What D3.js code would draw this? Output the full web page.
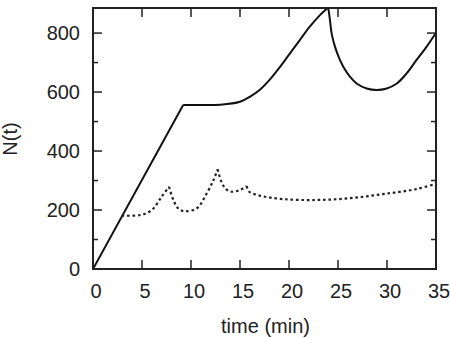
<!DOCTYPE html>
<html>
<head>
<meta charset="utf-8">
<script src="https://cdn.jsdelivr.net/npm/d3@7"></script>
<style>
  body { margin: 0; background: #fff; }
  text { font-family: "Liberation Sans", Arial, sans-serif; fill: #222; }
</style>
</head>
<body>
<div id="chart"></div>
<script>
// solid curve
const solidT = [0, 9.2, 10.9, 13, 15, 16, 17, 18.06, 19.1, 20.1, 21.1, 22.1, 23.16, 24,
    24.18, 24.35, 24.69, 25.13, 25.54, 26.22, 26.9, 27.93, 28.95, 29.97, 31, 32, 33, 34.05, 35];
const solidN = [0, 556, 556, 557, 567, 584, 607, 643, 686, 731, 776, 821, 861, 887,
    844, 799, 754, 714, 686, 652, 629, 612, 607, 612, 629, 663, 708, 754, 801];
const solidCusps = [9.2, 24];

// dotted curve
const dotT = [2.93, 4.8, 6.0, 7.0, 7.76, 8.2, 8.7, 9.32, 10.6, 11.6, 12.3, 12.72, 13.1, 13.6, 14.15, 15.0, 15.68, 15.95, 17.0, 19.4, 22.8, 26.2, 29.6, 33.0, 35];
const dotN = [181, 183, 200, 245, 279, 234, 205, 196, 206, 256, 302, 338, 296, 270, 262, 268, 281, 262, 249, 237, 234, 240, 254, 271, 289];
const dotCusps = [7.76, 12.72, 15.68];

const xTicks = [0, 5, 10, 15, 20, 25, 30, 35];
const yMajor = [0, 200, 400, 600, 800];
const yMinor = [100, 300, 500, 700];

const margin = { top: 8, right: 14, bottom: 69, left: 93 };
const W = 450, H = 338;
const width = W - margin.left - margin.right;
const height = H - margin.top - margin.bottom;

const svg = d3.select("#chart").append("svg")
    .attr("width", W)
    .attr("height", H)
    .append("g")
    .attr("transform", "translate(" + margin.left + "," + margin.top + ")");

const x = d3.scaleLinear().domain([0, 35]).range([0, width]);
const y = d3.scaleLinear().domain([0, 885]).range([height, 0]);

svg.append("clipPath").attr("id", "clip")
    .append("rect").attr("width", width).attr("height", height);

// split series into pieces at the cusps, each piece a smooth curve
function pieces(ts, ns, cusps) {
    const pts = ts.map((t, i) => [t, ns[i]]);
    const out = [];
    let cur = [];
    pts.forEach(p => {
        cur.push(p);
        if (cusps.includes(p[0])) { out.push(cur); cur = [p]; }
    });
    if (cur.length > 1) out.push(cur);
    return out;
}

const line = d3.line()
    .x(d => x(d[0]))
    .y(d => y(d[1]))
    .curve(d3.curveCatmullRom.alpha(0.5));

svg.append("path")
    .attr("d", pieces(solidT, solidN, solidCusps).map(p => line(p)).join(""))
    .attr("clip-path", "url(#clip)")
    .attr("fill", "none")
    .attr("stroke", "#111")
    .attr("stroke-width", 2);

svg.append("path")
    .attr("d", pieces(dotT, dotN, dotCusps).map(p => line(p)).join(""))
    .attr("fill", "none")
    .attr("stroke", "#222")
    .attr("stroke-width", 2.2)
    .attr("stroke-dasharray", "2.6,2.8");

// frame
svg.append("rect")
    .attr("width", width)
    .attr("height", height)
    .attr("fill", "none")
    .attr("stroke", "#222")
    .attr("stroke-width", 2);

// inward ticks on all sides
const tk = svg.append("g").attr("stroke", "#222").attr("stroke-width", 1.5);
xTicks.slice(1, -1).forEach(t => {
    tk.append("line").attr("x1", x(t)).attr("x2", x(t)).attr("y1", height).attr("y2", height - 9);
    tk.append("line").attr("x1", x(t)).attr("x2", x(t)).attr("y1", 0).attr("y2", 9);
});
yMajor.concat(yMinor).forEach(v => {
    const len = yMajor.includes(v) ? 9 : 5;
    tk.append("line").attr("x1", 0).attr("x2", len).attr("y1", y(v)).attr("y2", y(v));
    tk.append("line").attr("x1", width).attr("x2", width - len).attr("y1", y(v)).attr("y2", y(v));
});

svg.selectAll(".xl")
    .data(xTicks)
    .enter().append("text")
    .attr("x", d => x(d) + 3)
    .attr("y", height + 29)
    .attr("text-anchor", "middle")
    .style("font-size", "20px")
    .text(d => d);

svg.selectAll(".yl")
    .data(yMajor)
    .enter().append("text")
    .attr("x", -13)
    .attr("y", d => y(d))
    .attr("dy", "0.36em")
    .attr("text-anchor", "end")
    .style("font-size", "20px")
    .text(d => d);

svg.append("text")
    .attr("x", width / 2 + 1)
    .attr("y", height + 64)
    .attr("text-anchor", "middle")
    .style("font-size", "20px")
    .text("time (min)");

svg.append("text")
    .attr("transform", "rotate(-90)")
    .attr("x", -(139 - margin.top))
    .attr("y", -76)
    .attr("text-anchor", "middle")
    .style("font-size", "20px")
    .text("N(t)");
</script>
</body>
</html>
